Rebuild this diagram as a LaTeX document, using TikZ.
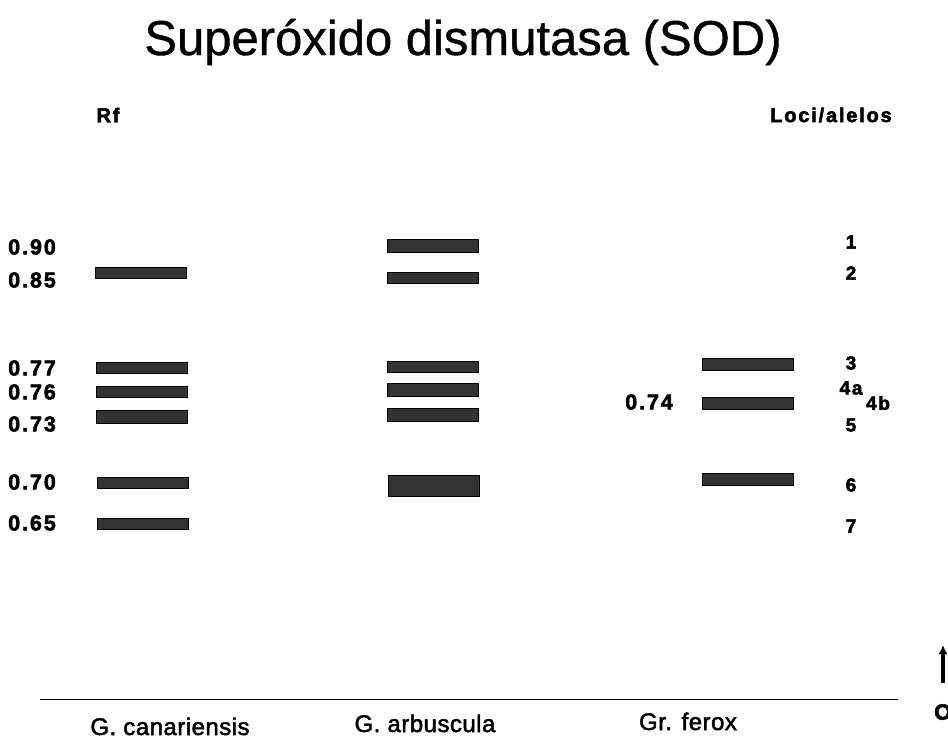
\documentclass[tikz,border=0pt]{standalone}
\usepackage{fontspec}
\setmainfont{Liberation Sans}
\newfontfamily\lblfont[LetterSpace=9,FakeBold=2.5]{Liberation Sans Bold}
\newfontfamily\titlefont[FakeBold=0.8]{Liberation Sans}
\newfontfamily\specfont[FakeBold=2,LetterSpace=2]{Liberation Sans}
\usetikzlibrary{arrows.meta}
\begin{document}
\begin{tikzpicture}[x=1pt,y=-1pt,
  band/.style={draw=black,fill=black!80,line width=0.8pt,inner sep=0pt,minimum width=91pt},
  lnum/.style={font=\lblfont\fontsize{21.5}{21.5}\selectfont,inner sep=0pt,anchor=west},
  rnum/.style={font=\lblfont\fontsize{19}{19}\selectfont,inner sep=0pt},
  species/.style={font=\specfont\fontsize{24}{24}\selectfont,inner sep=0pt,anchor=base}]
\useasboundingbox (0,0) rectangle (948,742);
\fill[white] (0,0) rectangle (948,742);
% title and headings
\node[font=\titlefont\fontsize{49}{49}\selectfont,inner sep=0pt,anchor=base] (title) at (463,55) {Superóxido dismutasa (SOD)};
\node[font=\lblfont\fontsize{20}{20}\selectfont,inner sep=0pt] (rf) at (108,115) {Rf};
\node[font=\lblfont\fontsize{20}{20}\selectfont,inner sep=0pt] (loci) at (831,115) {Loci/alelos};
% Rf values
\node[lnum] (v90) at (8,247) {0.90};
\node[lnum] (v85) at (8,280) {0.85};
\node[lnum] (v77) at (8,368) {0.77};
\node[lnum] (v76) at (8,392) {0.76};
\node[lnum] (v73) at (8,424) {0.73};
\node[lnum] (v70) at (8,482) {0.70};
\node[lnum] (v65) at (8,523) {0.65};
\node[lnum] (v74) at (625,402) {0.74};
% column 1
\node[band,minimum height=11pt] (a2) at (141,272.5) {};
\node[band,minimum height=11pt] (a3) at (141.5,367.5) {};
\node[band,minimum height=11pt] (a4) at (141.5,391.5) {};
\node[band,minimum height=13pt] (a5) at (141.5,416.5) {};
\node[band,minimum height=11pt] (a6) at (142.5,482.5) {};
\node[band,minimum height=11pt] (a7) at (142.5,523.5) {};
% column 2
\node[band,minimum height=13pt] (b1) at (432.5,245.5) {};
\node[band,minimum height=11pt] (b2) at (432.5,277.5) {};
\node[band,minimum height=11pt] (b3) at (433,366.5) {};
\node[band,minimum height=13pt] (b4) at (433,389.5) {};
\node[band,minimum height=13pt] (b5) at (433,414.5) {};
\node[band,minimum height=21pt] (b6) at (434,485.5) {};
% column 3
\node[band,minimum height=12pt] (c3) at (747.5,364.5) {};
\node[band,minimum height=12pt] (c4) at (747.5,403) {};
\node[band,minimum height=12pt] (c6) at (748,479.5) {};
% loci numbers
\node[rnum] (l1) at (851,242) {1};
\node[rnum] (l2) at (851,273) {2};
\node[rnum] (l3) at (851,363) {3};
\node[rnum] (l4a) at (851,388) {4a};
\node[rnum] (l4b) at (878,403) {4b};
\node[rnum] (l5) at (851,425) {5};
\node[rnum] (l6) at (851,485) {6};
\node[rnum] (l7) at (851,526) {7};
% baseline and species
\coordinate (bl) at (40,699);
\coordinate (br) at (898,699);
\draw[line width=1pt] (bl) -- (br);
\node[species] (s1) at (170,735) {G. canariensis};
\node[species] (s2) at (425,732) {G. arbuscula};
\node[species] (s3) at (688,730) {Gr. ferox};
% origin arrow
\coordinate (ob) at (943,683);
\coordinate (ot) at (943,645);
\draw[line width=3.5pt,-{Latex[length=9pt,width=9pt]}] (ob) -- (ot);
\node[font=\lblfont\fontsize{22}{22}\selectfont,inner sep=0pt,anchor=west] (orig) at (934,712) {O};
\end{tikzpicture}
\end{document}
